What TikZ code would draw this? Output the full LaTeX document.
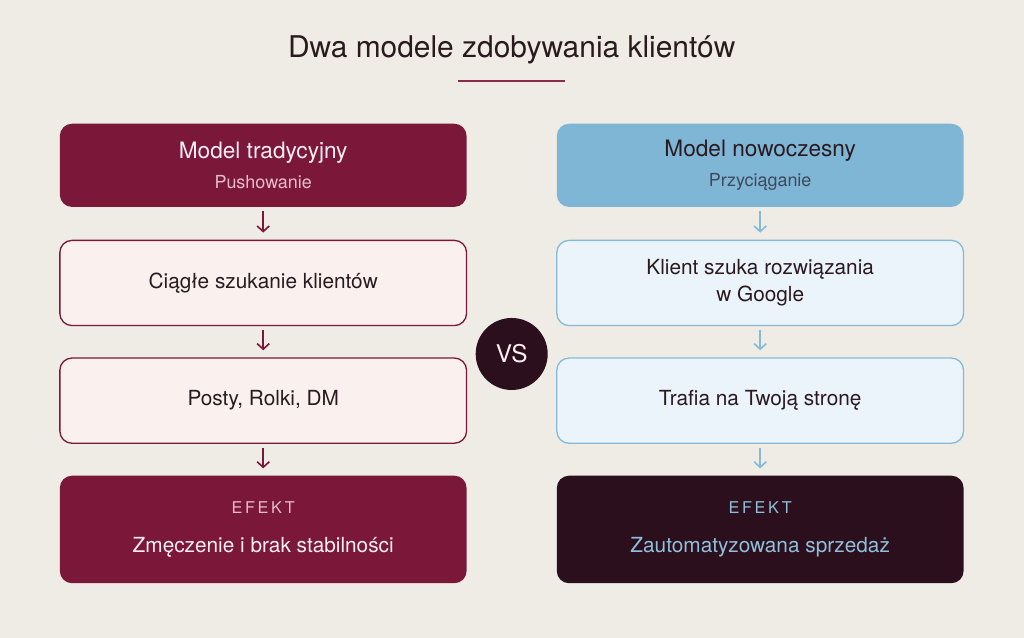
\documentclass[tikz,border=0pt]{standalone}
\usepackage{fontspec}
\setmainfont{TeX Gyre Heros}
\newfontfamily\spacedfont{TeX Gyre Heros}[LetterSpace=16]
\usetikzlibrary{arrows.meta}
\definecolor{bg}{HTML}{EEECE5}
\definecolor{maroon}{HTML}{7B1739}
\definecolor{maroonline}{HTML}{8A2B4E}
\definecolor{ink}{HTML}{2A1A20}
\definecolor{pinkfill}{HTML}{FAF1EE}
\definecolor{bluefill}{HTML}{EBF4FA}
\definecolor{blueline}{HTML}{85BBD9}
\definecolor{bluehead}{HTML}{7FB6D5}
\definecolor{darkbox}{HTML}{2B0F1C}
\definecolor{pinktext}{HTML}{E6BCCB}
\definecolor{whitepink}{HTML}{FBEFF3}
\definecolor{subblue}{HTML}{3E4A5C}
\definecolor{lightblue}{HTML}{8EC0DC}
\tikzset{
  box/.style={rounded corners=12pt, minimum width=401pt, inner sep=0pt, align=center, font=\fontsize{20.5}{27}\selectfont},
  headbox/.style={box, minimum height=82pt, font=\fontsize{20}{30}\selectfont},
  stepbox/.style={box, minimum height=84pt, line width=1.3pt},
  effbox/.style={box, minimum height=106pt, font=\fontsize{20.5}{39}\selectfont},
  arr/.style={line width=1.6pt, -{Straight Barb[length=5.5pt,width=12pt,line width=1.6pt]}, shorten <=4pt, shorten >=7pt}
}
\begin{document}
\begin{tikzpicture}[x=1pt,y=-1pt]
\fill[bg] (0,0) rectangle (1009.6,629);
\useasboundingbox (0,0) rectangle (1009.6,629);

\node[text=ink, font=\fontsize{29.5}{34}\selectfont] (title) at (504.5,49) {Dwa modele zdobywania klientów};
\coordinate (ulA) at (452,80);
\coordinate (ulB) at (557,80);
\draw[maroonline, line width=2.6pt] (ulA) -- (ulB);

% left column
\node[headbox, fill=maroon] (l1) at (259.5,163) {{\fontsize{22.3}{30}\selectfont\color{whitepink}Model tradycyjny}\\{\fontsize{17.7}{30}\selectfont\color{pinktext}Pushowanie}};
\node[stepbox, draw=maroon, fill=pinkfill, text=ink] (l2) at (259.5,279) {Ciągłe szukanie klientów};
\node[stepbox, draw=maroon, fill=pinkfill, text=ink] (l3) at (259.5,395) {Posty, Rolki, DM};
\node[effbox, fill=maroon] (l4) at (259.5,522) {{\fontsize{16}{39}\spacedfont\color{pinktext}EFEKT}\\{\color{whitepink}Zmęczenie i brak stabilności}};
\draw[arr, maroon] (l1) -- (l2);
\draw[arr, maroon] (l2) -- (l3);
\draw[arr, maroon] (l3) -- (l4);

% right column
\node[headbox, fill=bluehead] (r1) at (749.5,163) {{\fontsize{22.3}{30}\selectfont\color{ink}Model nowoczesny}\\{\fontsize{17.7}{30}\selectfont\color{subblue}Przyciąganie}};
\node[stepbox, draw=blueline, fill=bluefill, text=ink] (r2) at (749.5,279) {Klient szuka rozwiązania\\w Google};
\node[stepbox, draw=blueline, fill=bluefill, text=ink] (r3) at (749.5,395) {Trafia na Twoją stronę};
\node[effbox, fill=darkbox] (r4) at (749.5,522) {{\fontsize{16}{39}\spacedfont\color{lightblue}EFEKT}\\{\color{lightblue}Zautomatyzowana sprzedaż}};
\draw[arr, blueline] (r1) -- (r2);
\draw[arr, blueline] (r2) -- (r3);
\draw[arr, blueline] (r3) -- (r4);

% vs
\node[circle, fill=darkbox, minimum size=71pt, inner sep=0pt, text=whitepink, font=\fontsize{24}{28}\selectfont] (vs) at (504.5,349) {VS};
\end{tikzpicture}
\end{document}
